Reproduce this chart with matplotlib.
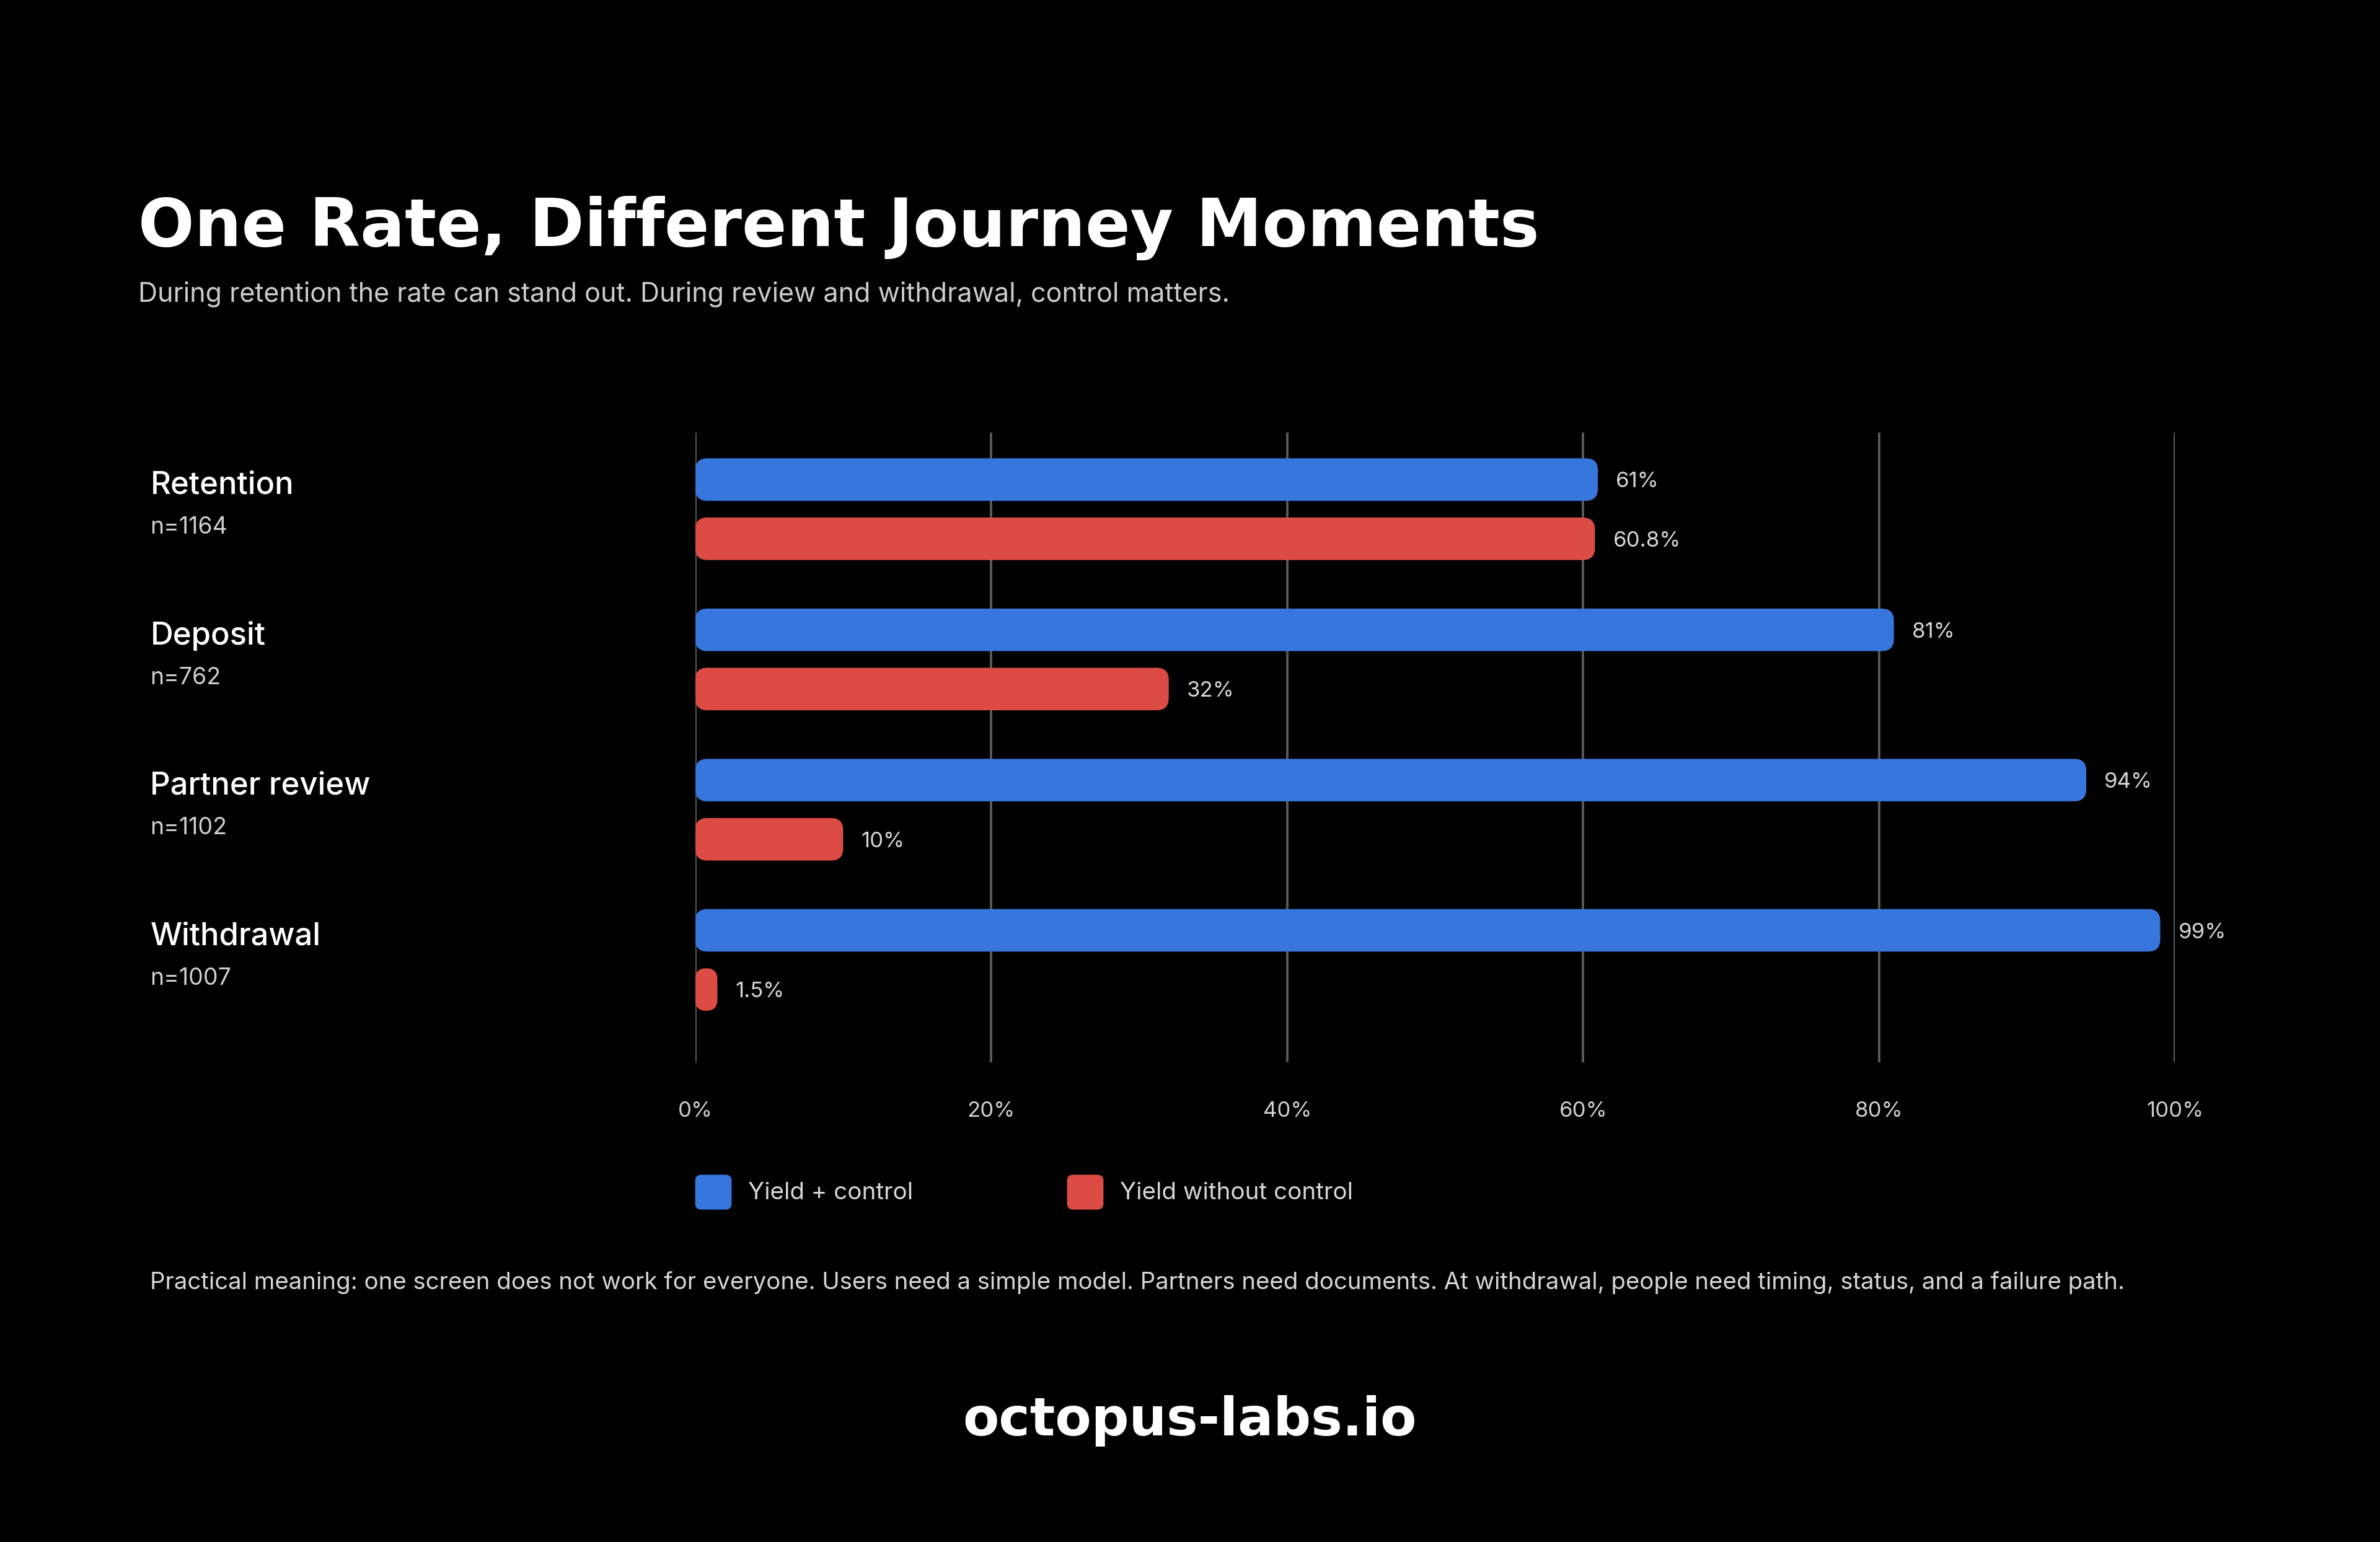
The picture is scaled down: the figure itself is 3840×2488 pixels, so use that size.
import matplotlib
matplotlib.use("Agg")
import matplotlib.pyplot as plt
from matplotlib.patches import FancyBboxPatch
from matplotlib.transforms import blended_transform_factory

# data
stages = ["Retention", "Deposit", "Partner review", "Withdrawal"]
sample_sizes = [1164, 762, 1102, 1007]
with_control = [61, 81, 94, 99]
without_control = [60.8, 32, 10, 1.5]
value_labels_with = ["61%", "81%", "94%", "99%"]
value_labels_without = ["60.8%", "32%", "10%", "1.5%"]
x_ticks = [0, 20, 40, 60, 80, 100]
series_names = ["Yield + control", "Yield without control"]

BG = "#000000"
BLUE = "#3776DC"
RED = "#DC4C44"
GRID = "#5a5a5a"

plt.rcParams["font.family"] = ["Inter", "DejaVu Sans"]

# layout is measured on a 1568 x 1016 grid of the reference
W_REF, H_REF = 1568, 1016


def fx(x):
    return x / W_REF


def fy(y):
    return 1 - y / H_REF


fig = plt.figure(figsize=(19.2, 12.44), dpi=200)
fig.patch.set_facecolor(BG)

ax = fig.add_axes([fx(458), fy(700), fx(1433) - fx(458), (700 - 285) / H_REF])
ax.set_facecolor(BG)
ax.set_xlim(0, 100)
ax.set_ylim(3.682, -0.51)

bar_h = 0.283
offset = 0.197

fig.canvas.draw()
bbox = ax.get_window_extent()
x_px = bbox.width / 100.0
y_px = bbox.height / (3.682 + 0.51)
aspect = x_px / y_px
radius = 8 * (3840 / W_REF) / x_px  # ~8 ref px, in x data units


def rounded_bar(x0, width, yc, color):
    r = min(radius, width / 2)
    patch = FancyBboxPatch(
        (x0, yc - bar_h / 2), width, bar_h,
        boxstyle=f"round,pad=0,rounding_size={r}",
        mutation_aspect=aspect,
        facecolor=color, edgecolor="none", zorder=3,
    )
    ax.add_patch(patch)


for i in range(len(stages)):
    yb = i - offset
    yr = i + offset
    rounded_bar(0, with_control[i], yb, BLUE)
    rounded_bar(0, without_control[i], yr, RED)
    ax.annotate(value_labels_with[i], xy=(with_control[i], yb), xytext=(10.5, 0),
                textcoords="offset points", va="center_baseline", ha="left",
                color="#d6d6d6", fontsize=12.5)
    ax.annotate(value_labels_without[i], xy=(without_control[i], yr), xytext=(10.5, 0),
                textcoords="offset points", va="center_baseline", ha="left",
                color="#d6d6d6", fontsize=12.5)

# category labels on the left
trans = blended_transform_factory(fig.transFigure, ax.transData)
for i, (name, n) in enumerate(zip(stages, sample_sizes)):
    ax.text(fx(99), i - offset + 0.04, name, transform=trans, ha="left", va="center",
            color="white", fontsize=18.3, fontweight="medium")
    ax.text(fx(99), i - offset + 0.32, f"n={n}", transform=trans, ha="left", va="center",
            color="#cfcfcf", fontsize=13.5)

ax.set_xticks(x_ticks)
ax.set_xticklabels([f"{t}%" for t in x_ticks], color="#cfcfcf", fontsize=12.5)
ax.set_yticks([])
ax.tick_params(axis="x", length=0, pad=22.5)
ax.grid(axis="x", color=GRID, linewidth=1.4, zorder=0)
for spine in ax.spines.values():
    spine.set_visible(False)

# title and subtitle
fig.text(fx(91), fy(162), "One Rate, Different Journey Moments", ha="left", va="baseline",
         color="white", fontsize=38.4, fontweight="bold", family="DejaVu Sans")
fig.text(fx(91), fy(194), "During retention the rate can stand out. During review and withdrawal, control matters.",
         ha="left", va="center", color="#cccccc", fontsize=15.5)

# legend
fig_aspect = 3840 / 2488
for x0, color, name in [(458, BLUE, series_names[0]), (703, RED, series_names[1])]:
    sq = FancyBboxPatch((fx(x0), fy(797)), fx(24), 23 / H_REF,
                        boxstyle=f"round,pad=0,rounding_size={fx(4)}",
                        mutation_aspect=fig_aspect, transform=fig.transFigure,
                        facecolor=color, edgecolor="none")
    fig.patches.append(sq)
    fig.text(fx(x0 + 35), fy(786), name, ha="left", va="center",
             color="#d6d6d6", fontsize=13.9)

# footnote
fig.text(fx(99), fy(845),
         "Practical meaning: one screen does not work for everyone. Users need a simple model. "
         "Partners need documents. At withdrawal, people need timing, status, and a failure path.",
         ha="left", va="center", color="#d6d6d6", fontsize=13.8)

# brand
fig.text(fx(784), fy(936), "octopus-labs.io", ha="center", va="center",
         color="white", fontsize=30.6, fontweight="bold", family="DejaVu Sans")

fig.savefig("out.png", dpi=200, facecolor=fig.get_facecolor())
plt.close(fig)
